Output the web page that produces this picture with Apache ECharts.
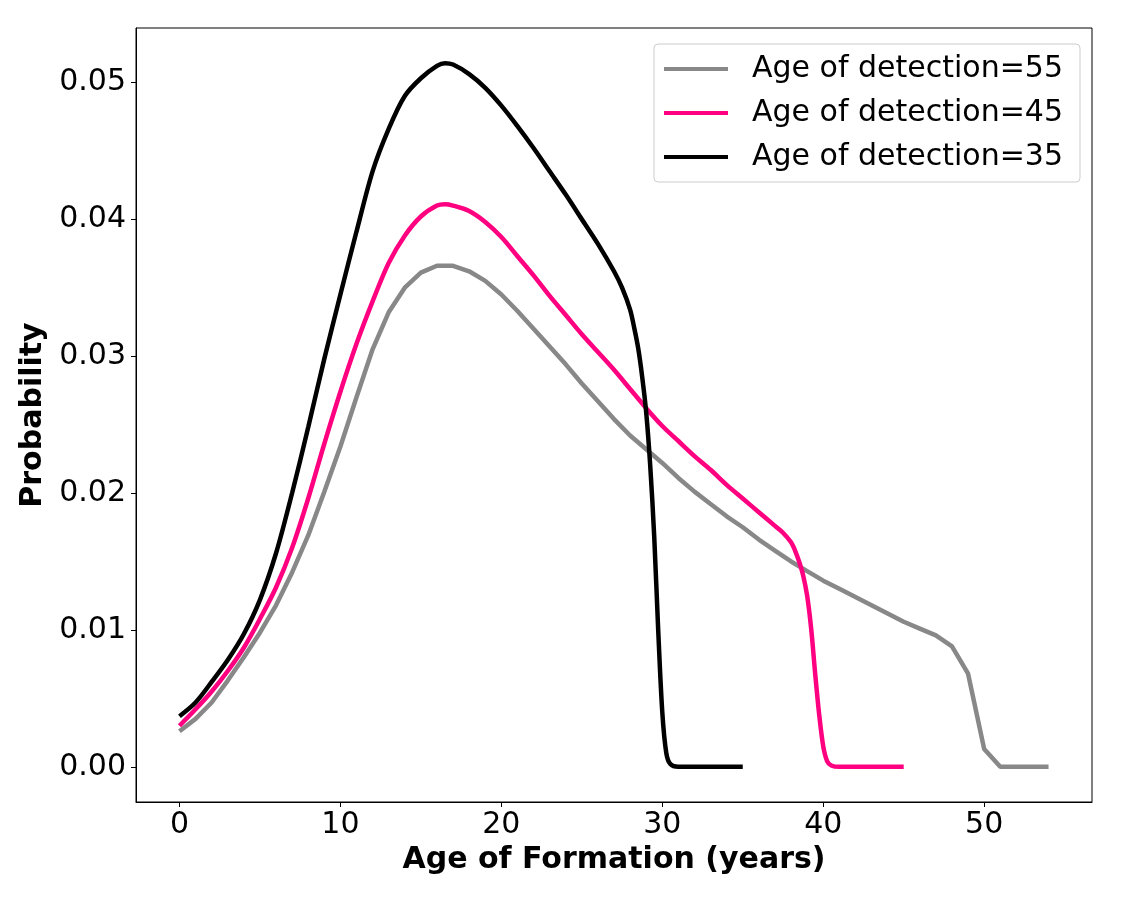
<!DOCTYPE html>
<html>
    <head>
        <meta charset="UTF-8">
        <title>Age of Formation</title>
        <script src="https://cdn.jsdelivr.net/npm/echarts@6/dist/echarts.min.js"></script>
        <style>
            body { margin: 0; background: #fff; }
            #main { width: 1138px; height: 904px; }
        </style>
    </head>
    <body>
        <div id="main"></div>
        <script>
            // age of detection = 55 (integer ages 0..54)
            var age55 = [];
            for (var i = 0; i <= 54; i++) age55.push(i);
            var prob55 = [0.0026, 0.0035, 0.0047, 0.0063, 0.0080, 0.0098, 0.0118, 0.0142, 0.0169, 0.0201,
                          0.0234, 0.0270, 0.0305, 0.0332, 0.0350, 0.0361, 0.0366, 0.0366, 0.0362, 0.0355,
                          0.0345, 0.0333, 0.0320, 0.0307, 0.0294, 0.0280, 0.0267, 0.0254, 0.0242, 0.0232,
                          0.0222, 0.0211, 0.0201, 0.0192, 0.0183, 0.0175, 0.0166, 0.0158, 0.0150, 0.0143,
                          0.0136, 0.0130, 0.0124, 0.0118, 0.0112, 0.0106, 0.0101, 0.0096, 0.0088, 0.0068,
                          0.0013, 0, 0, 0, 0];

            // age of detection = 45
            var age45 = [0, 1, 2, 3, 4, 5, 6, 7, 8, 9, 10, 11, 12, 13, 14, 15, 16, 16.5, 17, 18, 19, 20,
                         21, 22, 23, 24, 25, 26, 27, 28, 29, 30, 31, 32, 33, 34, 35, 36, 37, 37.5, 38,
                         38.25, 38.5, 38.75, 39, 39.25, 39.5, 39.75, 40, 40.25, 40.5, 41, 42, 43, 44, 45];
            var prob45 = [0.0030, 0.0042, 0.0055, 0.0070, 0.0087, 0.0108, 0.0131, 0.0160, 0.0196, 0.0236,
                          0.0274, 0.0309, 0.0340, 0.0368, 0.0388, 0.0402, 0.0410, 0.0411, 0.0410, 0.0406,
                          0.0398, 0.0387, 0.0373, 0.0359, 0.0344, 0.0330, 0.0316, 0.0303, 0.0290, 0.0276,
                          0.0262, 0.0249, 0.0238, 0.0227, 0.0217, 0.0206, 0.0196, 0.0186, 0.0176, 0.0171,
                          0.0164, 0.0158, 0.0150, 0.0140, 0.0125, 0.0101, 0.0068, 0.0038, 0.0015, 0.0004,
                          0.0001, 0, 0, 0, 0, 0];

            // age of detection = 35
            var age35 = [0, 1, 2, 3, 4, 5, 6, 7, 8, 9, 10, 11, 12, 13, 14, 15, 16, 16.5, 17, 18, 19, 20,
                         21, 22, 23, 24, 25, 26, 27, 27.5, 28, 28.25, 28.5, 28.75, 29, 29.25, 29.5, 29.75,
                         30, 30.25, 30.5, 31, 32, 33, 34, 35];
            var prob35 = [0.0037, 0.0047, 0.0062, 0.0078, 0.0097, 0.0122, 0.0156, 0.0200, 0.0248, 0.0298,
                          0.0345, 0.0391, 0.0435, 0.0466, 0.0490, 0.0503, 0.0512, 0.0514, 0.0513, 0.0506,
                          0.0496, 0.0483, 0.0468, 0.0452, 0.0435, 0.0418, 0.0400, 0.0382, 0.0362, 0.0350,
                          0.0334, 0.0321, 0.0306, 0.0285, 0.0259, 0.0220, 0.0168, 0.0099, 0.0040, 0.0010,
                          0.0002, 0, 0, 0, 0, 0];

            var xTicks = [0, 10, 20, 30, 40, 50];
            var yTicks = [0, 0.01, 0.02, 0.03, 0.04, 0.05];

            function pairs(xs, ys) {
                return xs.map(function (x, k) { return [x, ys[k]]; });
            }

            var font = 'DejaVu Sans';
            var chart = echarts.init(document.getElementById('main'));
            chart.setOption({
                animation: false,
                grid: {
                    left: 136, right: 46, top: 28, bottom: 102,
                    show: true, borderColor: '#000', borderWidth: 1
                },
                legend: {
                    orient: 'vertical',
                    top: 44, right: 58,
                    icon: 'rect',
                    itemWidth: 64, itemHeight: 4, itemGap: 14,
                    padding: [10, 17, 10, 10],
                    backgroundColor: 'rgba(255,255,255,0.8)',
                    borderColor: '#cccccc', borderWidth: 1, borderRadius: 4,
                    textStyle: { fontFamily: font, fontSize: 30, lineHeight: 30, color: '#000', padding: [0, 0, 0, 19] },
                    data: ['Age of detection=55', 'Age of detection=45', 'Age of detection=35']
                },
                xAxis: {
                    type: 'value', min: -2.7, max: 56.7,
                    name: 'Age of Formation (years)', nameLocation: 'middle', nameGap: 40,
                    nameTextStyle: { fontFamily: font, fontSize: 30, fontWeight: 'bold', color: '#000' },
                    axisLine: { onZero: false, lineStyle: { color: '#000', width: 1 } },
                    axisTick: { length: 5, lineStyle: { color: '#000' }, customValues: xTicks },
                    axisLabel: { fontFamily: font, fontSize: 30, color: '#000', margin: 8, customValues: xTicks },
                    splitLine: { show: false }
                },
                yAxis: {
                    type: 'value', min: -0.00257, max: 0.05397,
                    name: 'Probability', nameLocation: 'middle', nameGap: 76, nameRotate: 90,
                    nameTextStyle: { fontFamily: font, fontSize: 30, fontWeight: 'bold', color: '#000' },
                    axisLine: { show: true, onZero: false, lineStyle: { color: '#000', width: 1 } },
                    axisTick: { show: true, length: 5, lineStyle: { color: '#000' }, customValues: yTicks },
                    axisLabel: {
                        fontFamily: font, fontSize: 30, color: '#000', margin: 10, customValues: yTicks,
                        formatter: function (v) { return v.toFixed(2); }
                    },
                    splitLine: { show: false }
                },
                series: [
                    {
                        name: 'Age of detection=55', type: 'line', symbol: 'none',
                        color: '#888888', lineStyle: { width: 4.5, color: '#888888' },
                        data: pairs(age55, prob55)
                    },
                    {
                        name: 'Age of detection=45', type: 'line', symbol: 'none', smooth: 0.3,
                        color: '#ff0080', lineStyle: { width: 4.5, color: '#ff0080' },
                        data: pairs(age45, prob45)
                    },
                    {
                        name: 'Age of detection=35', type: 'line', symbol: 'none', smooth: 0.3,
                        color: '#000000', lineStyle: { width: 4.5, color: '#000000' },
                        data: pairs(age35, prob35)
                    }
                ]
            });
        </script>
    </body>
</html>
